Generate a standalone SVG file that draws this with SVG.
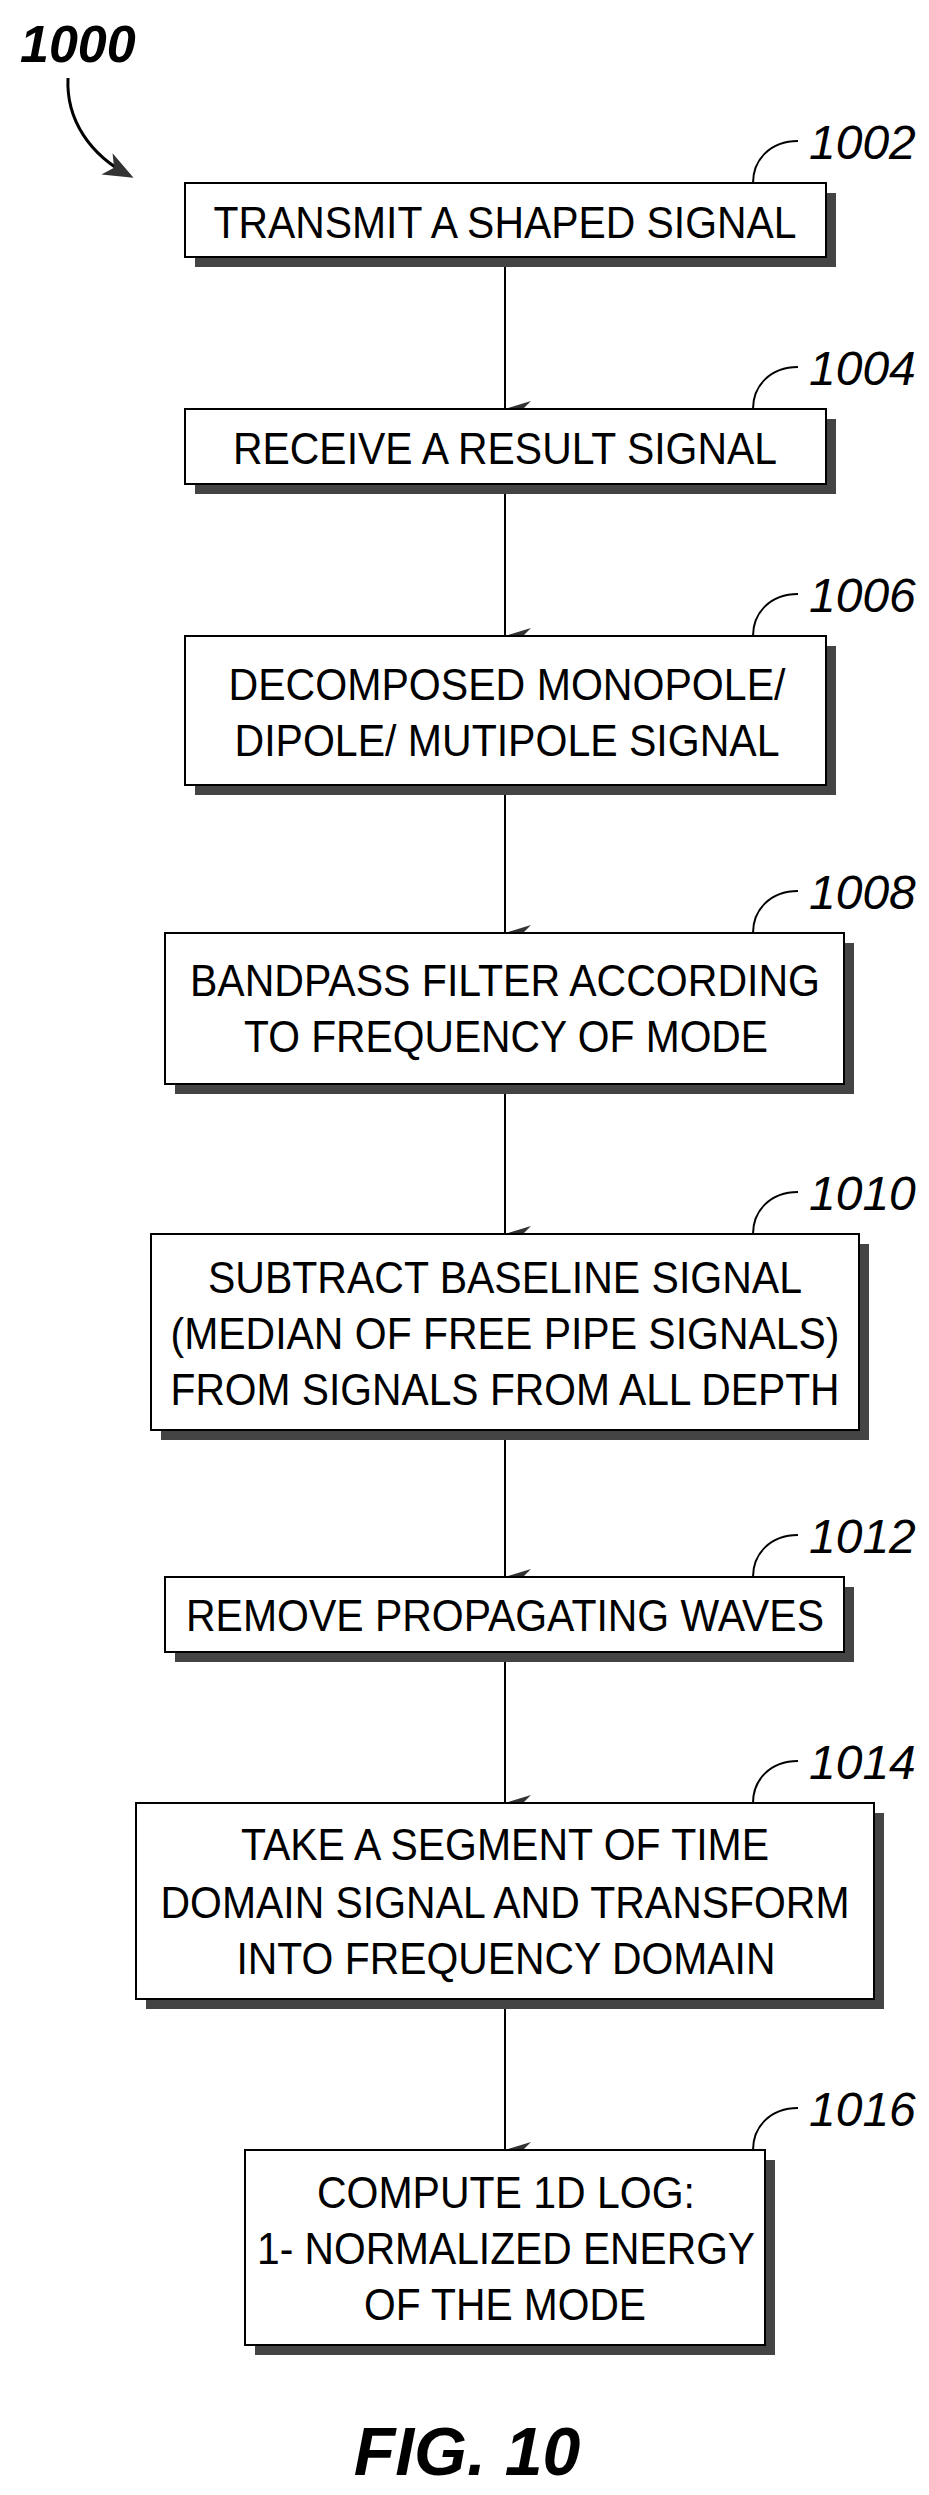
<svg xmlns="http://www.w3.org/2000/svg" width="929" height="2495" viewBox="0 0 929 2495">
<style>
.box{fill:#fff;stroke:#000;stroke-width:2}
.sh{fill:#444}
.t{font-family:"Liberation Sans",Arial,sans-serif;font-size:44px;text-anchor:middle;fill:#000}
.lab{font-family:"Liberation Sans",Arial,sans-serif;font-size:48px;font-style:italic;fill:#000}
.ld{fill:none;stroke:#000;stroke-width:2}
.c{stroke:#000;stroke-width:2;fill:none;marker-end:url(#ah)}
</style>
<defs>
<marker id="ah" markerWidth="16" markerHeight="26" refX="8" refY="26" orient="auto" markerUnits="userSpaceOnUse" viewBox="0 0 16 26">
<path d="M0,0 L8,26 L16,0 L8,8 Z" fill="#333"/>
</marker>
<marker id="ah2" markerWidth="30" markerHeight="30" refX="26" refY="15" orient="auto" markerUnits="userSpaceOnUse" viewBox="0 0 30 30">
<path d="M0,3 L30,15 L0,27 L8,15 Z" fill="#333"/>
</marker>
</defs>
<rect width="929" height="2495" fill="#fff"/>
<g id="title">
<text x="20" y="62" font-family="Liberation Sans,Arial,sans-serif" font-size="52" font-weight="bold" font-style="italic">1000</text>
<path d="M68,78 C66,120 90,155 130,176" fill="none" stroke="#000" stroke-width="3" marker-end="url(#ah2)"/>
</g>
<g id="connectors">
<line class="c" x1="505" y1="257" x2="505" y2="409"/>
<line class="c" x1="505" y1="484" x2="505" y2="636"/>
<line class="c" x1="505" y1="785" x2="505" y2="933"/>
<line class="c" x1="505" y1="1084" x2="505" y2="1234"/>
<line class="c" x1="505" y1="1430" x2="505" y2="1577"/>
<line class="c" x1="505" y1="1652" x2="505" y2="1803"/>
<line class="c" x1="505" y1="1999" x2="505" y2="2150"/>
</g>
<g id="n1002">
<rect class="sh" x="195" y="193" width="641" height="74"/>
<rect class="box" x="185" y="183" width="641" height="74"/>
<text class="t" x="505" y="238" textLength="583" lengthAdjust="spacingAndGlyphs">TRANSMIT A SHAPED SIGNAL</text>
<path class="ld" d="M753,183 C753,160 770,141 798,141"/>
<text class="lab" x="809" y="159">1002</text>
</g>
<g id="n1004">
<rect class="sh" x="195" y="419" width="641" height="75"/>
<rect class="box" x="185" y="409" width="641" height="75"/>
<text class="t" x="505" y="464" textLength="544" lengthAdjust="spacingAndGlyphs">RECEIVE A RESULT SIGNAL</text>
<path class="ld" d="M753,409 C753,386 770,367 798,367"/>
<text class="lab" x="809" y="385">1004</text>
</g>
<g id="n1006">
<rect class="sh" x="195" y="646" width="641" height="149"/>
<rect class="box" x="185" y="636" width="641" height="149"/>
<text class="t" x="507" y="700" textLength="557" lengthAdjust="spacingAndGlyphs">DECOMPOSED MONOPOLE/</text>
<text class="t" x="507" y="756" textLength="545" lengthAdjust="spacingAndGlyphs">DIPOLE/ MUTIPOLE SIGNAL</text>
<path class="ld" d="M753,636 C753,613 770,594 798,594"/>
<text class="lab" x="809" y="612">1006</text>
</g>
<g id="n1008">
<rect class="sh" x="175" y="943" width="679" height="151"/>
<rect class="box" x="165" y="933" width="679" height="151"/>
<text class="t" x="505" y="996" textLength="630" lengthAdjust="spacingAndGlyphs">BANDPASS FILTER ACCORDING</text>
<text class="t" x="506" y="1052" textLength="524" lengthAdjust="spacingAndGlyphs">TO FREQUENCY OF MODE</text>
<path class="ld" d="M753,933 C753,910 770,891 798,891"/>
<text class="lab" x="809" y="909">1008</text>
</g>
<g id="n1010">
<rect class="sh" x="161" y="1244" width="708" height="196"/>
<rect class="box" x="151" y="1234" width="708" height="196"/>
<text class="t" x="505" y="1293" textLength="594" lengthAdjust="spacingAndGlyphs">SUBTRACT BASELINE SIGNAL</text>
<text class="t" x="505" y="1349" textLength="669" lengthAdjust="spacingAndGlyphs">(MEDIAN OF FREE PIPE SIGNALS)</text>
<text class="t" x="505" y="1405" textLength="669" lengthAdjust="spacingAndGlyphs">FROM SIGNALS FROM ALL DEPTH</text>
<path class="ld" d="M753,1234 C753,1211 770,1192 798,1192"/>
<text class="lab" x="809" y="1210">1010</text>
</g>
<g id="n1012">
<rect class="sh" x="175" y="1587" width="679" height="75"/>
<rect class="box" x="165" y="1577" width="679" height="75"/>
<text class="t" x="505" y="1631" textLength="638" lengthAdjust="spacingAndGlyphs">REMOVE PROPAGATING WAVES</text>
<path class="ld" d="M753,1577 C753,1554 770,1535 798,1535"/>
<text class="lab" x="809" y="1553">1012</text>
</g>
<g id="n1014">
<rect class="sh" x="146" y="1813" width="738" height="196"/>
<rect class="box" x="136" y="1803" width="738" height="196"/>
<text class="t" x="505" y="1860" textLength="528" lengthAdjust="spacingAndGlyphs">TAKE A SEGMENT OF TIME</text>
<text class="t" x="505" y="1918" textLength="689" lengthAdjust="spacingAndGlyphs">DOMAIN SIGNAL AND TRANSFORM</text>
<text class="t" x="506" y="1974" textLength="539" lengthAdjust="spacingAndGlyphs">INTO FREQUENCY DOMAIN</text>
<path class="ld" d="M753,1803 C753,1780 770,1761 798,1761"/>
<text class="lab" x="809" y="1779">1014</text>
</g>
<g id="n1016">
<rect class="sh" x="255" y="2160" width="520" height="195"/>
<rect class="box" x="245" y="2150" width="520" height="195"/>
<text class="t" x="506" y="2208" textLength="378" lengthAdjust="spacingAndGlyphs">COMPUTE 1D LOG:</text>
<text class="t" x="506" y="2264" textLength="498" lengthAdjust="spacingAndGlyphs">1- NORMALIZED ENERGY</text>
<text class="t" x="505" y="2320" textLength="282" lengthAdjust="spacingAndGlyphs">OF THE MODE</text>
<path class="ld" d="M753,2150 C753,2127 770,2108 798,2108"/>
<text class="lab" x="809" y="2126">1016</text>
</g>
<g id="caption">
<text x="467" y="2475" font-family="Liberation Sans,Arial,sans-serif" font-size="68" font-weight="bold" font-style="italic" text-anchor="middle">FIG. 10</text>
</g>
</svg>
